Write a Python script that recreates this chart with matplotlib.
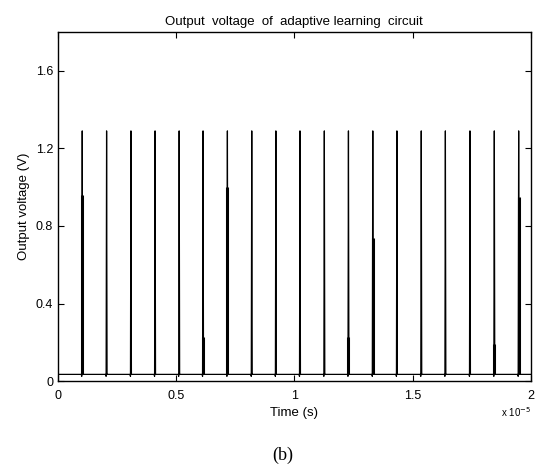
import numpy as np
import matplotlib

matplotlib.use("Agg")
import matplotlib.pyplot as plt

plt.rcParams["font.family"] = ["Liberation Sans", "DejaVu Sans"]

# spike times (units of 1e-5 s), peak voltage, and height of the thick lower part
spike_t = [0.103, 0.206, 0.309, 0.411, 0.513, 0.614, 0.717, 0.820, 0.922, 1.024,
           1.127, 1.229, 1.332, 1.434, 1.537, 1.639, 1.743, 1.846, 1.949]
spike_peak = [1.29] * 19
spike_thick = [0.96, 0.0, 0.0, 0.0, 0.0, 0.23, 1.00, 0.0, 0.0, 0.0,
               0.0, 0.23, 0.74, 0.0, 0.0, 0.0, 0.0, 0.19, 0.95]
start_t = 0.0
start_v = 0.15
baseline = 0.035
t_end = 2.0

xtick_vals = [0, 0.5, 1, 1.5, 2]
xtick_labels = ["0", "0.5", "1", "1.5", "2"]
ytick_vals = [0, 0.4, 0.8, 1.2, 1.6]
ytick_labels = ["0", "0.4", "0.8", "1.2", "1.6"]

# polyline: baseline with narrow spikes
ts = [start_t, start_t + 0.002, start_t + 0.004]
vs = [start_v, baseline, baseline]
for t, p in zip(spike_t, spike_peak):
    ts += [t - 0.004, t - 0.002, t, t + 0.002, t + 0.004]
    vs += [baseline, baseline - 0.01, p, baseline, baseline]
ts.append(t_end)
vs.append(baseline)

fig = plt.figure(figsize=(5.41, 4.70), dpi=100, facecolor="white")
ax = fig.add_axes([0.107, 0.189, 0.874, 0.743])
ax.plot(ts, vs, color="black", lw=0.9)
for t, h in zip(spike_t, spike_thick):
    if h > 0:
        ax.vlines(t, baseline, h, color="black", lw=2.2)

ax.set_xlim(0, 2)
ax.set_ylim(0, 1.8)
ax.set_xticks(xtick_vals)
ax.set_xticklabels(xtick_labels)
ax.set_yticks(ytick_vals)
ax.set_yticklabels(ytick_labels)
ax.tick_params(direction="in", top=True, right=True, labelsize=9, length=4, width=0.8)
ax.tick_params(axis="x", pad=6)
for s in ax.spines.values():
    s.set_linewidth(1.0)

ax.set_title("Output  voltage  of  adaptive learning  circuit", fontsize=9.5, pad=5)
ax.set_xlabel("Time (s)", fontsize=9.5, labelpad=4)
ax.set_ylabel("Output voltage (V)", fontsize=9.5, labelpad=4)
ax.text(1.0, -0.09, r"x 10$^{-5}$", transform=ax.transAxes, fontsize=7,
        ha="right", va="center")
fig.text(0.523, 0.032, "(b)", fontsize=13, family=["Liberation Serif", "DejaVu Serif"],
         ha="center", va="center")

fig.savefig("out.png", dpi=100, facecolor="white")
